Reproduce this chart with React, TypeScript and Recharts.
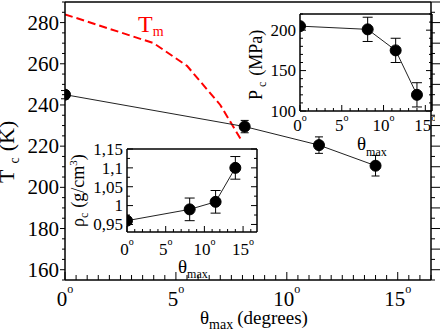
import React from 'react';
import { LineChart, Line, XAxis, YAxis, ErrorBar, Label } from 'recharts';

// ---- data ----
const thetaMax = [0, 8.1, 11.45, 14.0];
const tcValues = [245, 229.5, 220.5, 210.5];
const tcErrors = [2, 3, 4, 5];
const tmTheta = [0, 4, 5.5, 7, 8];
const tmValues = [284, 270, 259, 240, 222];
const pcValues = [205, 201, 175, 120];
const pcErrors = [0, 15, 15, 15];
const rhoValues = [0.96, 0.99, 1.01, 1.1];
const rhoErrors = [0, 0.03, 0.03, 0.03];

// ---- tick labels (major) ----
const mainXMajor = [0, 5, 10, 15];
const mainYMajor = [160, 180, 200, 220, 240, 260, 280];
const mainYRightMajor = [160, 170, 180, 190, 200, 210, 220, 230, 240, 250, 260, 270, 280, 290];
const pcXMajor = [0, 5, 10, 15];
const pcYMajor = [100, 150, 200];
const rhoXMajor = [0, 5, 10, 15];
const rhoYMajor = [0.95, 1, 1.05, 1.1, 1.15];

const steps = (a: number, b: number, s: number) => {
  const out: number[] = [];
  for (let i = 0; a + i * s <= b + 1e-9; i++) out.push(+(a + i * s).toFixed(4));
  return out;
};

const mainXTicks = steps(0, 16.5, 0.5);
const mainYTicks = steps(155, 290, 5);
const pcXTicks = steps(0, 15, 1);
const pcYTicks = steps(100, 220, 10);
const rhoXTicks = steps(0, 16, 1);
const rhoYTicks = steps(0.95, 1.15, 0.025);

const tcData = thetaMax.map((x, i) => ({ x, y: tcValues[i], err: tcErrors[i] }));
const tmData = tmTheta.map((x, i) => ({ x, y: tmValues[i] }));
const pcData = thetaMax.map((x, i) => ({ x, y: pcValues[i], err: pcErrors[i] }));
const rhoData = thetaMax.map((x, i) => ({ x, y: rhoValues[i], err: rhoErrors[i] }));

const FONT = '"Liberation Serif", "Times New Roman", serif';

type TickCfg = {
  side: 'bottom' | 'top' | 'left' | 'right';
  inward: boolean;
  majors: number[];
  majorLen: number;
  minorLen: number;
  fontSize?: number;
  offset?: number;
  format?: (v: number) => React.ReactNode;
};

const makeTick = (cfg: TickCfg) => (props: any) => {
  const { x, y, payload } = props;
  const v = payload.value;
  const major = cfg.majors.some((m) => Math.abs(m - v) < 1e-6);
  const len = major ? cfg.majorLen : cfg.minorLen;
  const out = cfg.inward ? -1 : 1;
  let x2 = x;
  let y2 = y;
  if (cfg.side === 'bottom') y2 = y + out * len;
  if (cfg.side === 'top') y2 = y - out * len;
  if (cfg.side === 'left') x2 = x - out * len;
  if (cfg.side === 'right') x2 = x + out * len;
  let label: React.ReactNode = null;
  if (major && cfg.format) {
    const fs = cfg.fontSize || 16;
    if (cfg.side === 'bottom') {
      label = (
        <text x={x} y={y + (cfg.offset || 0)} textAnchor="middle" fontFamily={FONT} fontSize={fs} fill="#000">
          {cfg.format(v)}
        </text>
      );
    } else if (cfg.side === 'left') {
      label = (
        <text x={x - (cfg.offset || 0)} y={y + fs * 0.34} textAnchor="end" fontFamily={FONT} fontSize={fs} fill="#000">
          {cfg.format(v)}
        </text>
      );
    }
  }
  return (
    <g>
      <line x1={x} y1={y} x2={x2} y2={y2} stroke="#000" strokeWidth={1} />
      {label}
    </g>
  );
};

const degree = (supSize: number, supDy: number) => (v: number) => [
  <tspan key="n">{v}</tspan>,
  <tspan key="s" dy={-supDy} fontSize={supSize}>o</tspan>,
];
const plain = (v: number) => String(v);
const comma = (v: number) => String(v).replace('.', ',');

const AXIS_LINE = { stroke: '#000', strokeWidth: 1.5 };

export default function App() {
  return (
    <div style={{ position: 'absolute', left: 0, top: 0, width: 443, height: 332, background: '#fff', overflow: 'hidden' }}>
      {/* main chart */}
      <div style={{ position: 'absolute', left: 0, top: 0 }}>
        <LineChart width={443} height={332} margin={{ top: 1, right: 11, bottom: 0, left: 0 }}>
          <XAxis
            xAxisId="b"
            dataKey="x"
            type="number"
            domain={[0, 16.5]}
            allowDataOverflow
            ticks={mainXTicks}
            interval={0}
            tickSize={0}
            tickMargin={0}
            height={52}
            axisLine={AXIS_LINE}
            tickLine={false}
            tick={makeTick({ side: 'bottom', inward: true, majors: mainXMajor, majorLen: 8, minorLen: 5, fontSize: 21, offset: 26, format: degree(12, 13) })}
          >
            <Label
              content={() => (
                <text x={200} y={324} fontFamily={FONT} fontSize={19} fill="#000">
                  <tspan>θ</tspan>
                  <tspan dy={5} fontSize={14}>max</tspan>
                  <tspan dy={-5} dx={4}>(degrees)</tspan>
                </text>
              )}
            />
          </XAxis>
          <XAxis
            xAxisId="t"
            orientation="top"
            type="number"
            domain={[0, 16.5]}
            allowDataOverflow
            ticks={mainXTicks}
            interval={0}
            tickSize={0}
            tickMargin={0}
            height={1}
            axisLine={AXIS_LINE}
            tickLine={false}
            tick={makeTick({ side: 'top', inward: true, majors: mainXMajor, majorLen: 8, minorLen: 5 })}
          >
            <Label
              content={() => (
                <text x={138} y={32} fontFamily={FONT} fontSize={24} fill="#ff0000">
                  <tspan>T</tspan>
                  <tspan dy={4} fontSize={14}>m</tspan>
                </text>
              )}
            />
          </XAxis>
          <YAxis
            yAxisId="l"
            type="number"
            domain={[155, 290]}
            allowDataOverflow
            ticks={mainYTicks}
            interval={0}
            tickSize={0}
            tickMargin={0}
            width={65}
            axisLine={AXIS_LINE}
            tickLine={false}
            tick={makeTick({ side: 'left', inward: false, majors: mainYMajor, majorLen: 5, minorLen: 3, fontSize: 21, offset: 6, format: plain })}
          >
            <Label
              content={() => (
                <text transform="rotate(-90 14 183)" x={14} y={183} fontFamily={FONT} fontSize={22} fill="#000">
                  <tspan>T</tspan>
                  <tspan dx={6} dy={5} fontSize={14}>c</tspan>
                  <tspan dx={6} dy={-5}>(K)</tspan>
                </text>
              )}
            />
          </YAxis>
          <YAxis
            yAxisId="r"
            orientation="right"
            type="number"
            domain={[155, 290]}
            allowDataOverflow
            ticks={mainYTicks}
            interval={0}
            tickSize={0}
            tickMargin={0}
            width={1}
            axisLine={AXIS_LINE}
            tickLine={false}
            tick={makeTick({ side: 'right', inward: false, majors: mainYRightMajor, majorLen: 9, minorLen: 4 })}
          />
          <Line
            xAxisId="b"
            yAxisId="l"
            data={tmData}
            dataKey="y"
            type="linear"
            stroke="#ff0000"
            strokeWidth={2}
            strokeDasharray="8 4"
            dot={false}
            isAnimationActive={false}
          />
          <Line
            xAxisId="b"
            yAxisId="l"
            data={tcData}
            dataKey="y"
            type="linear"
            stroke="#222"
            strokeWidth={1}
            dot={{ r: 5.5, fill: '#000', stroke: '#000', strokeWidth: 1 }}
            isAnimationActive={false}
          >
            <ErrorBar dataKey="err" direction="y" width={4} stroke="#000" strokeWidth={1} isAnimationActive={false} />
          </Line>
        </LineChart>
      </div>

      {/* Pc inset */}
      <div style={{ position: 'absolute', left: 230, top: 0 }}>
        <LineChart width={205} height={160} margin={{ top: 13, right: 2, bottom: 0, left: 0 }}>
          <XAxis
            xAxisId="b"
            dataKey="x"
            type="number"
            domain={[0, 15.8]}
            allowDataOverflow
            ticks={pcXTicks}
            interval={0}
            tickSize={0}
            tickMargin={0}
            height={49}
            axisLine={AXIS_LINE}
            tickLine={false}
            tick={makeTick({ side: 'bottom', inward: true, majors: pcXMajor, majorLen: 6, minorLen: 3, fontSize: 17, offset: 20, format: degree(10, 10) })}
          >
            <Label
              content={() => (
                <text x={127} y={150} fontFamily={FONT} fontSize={19} fill="#000">
                  <tspan>θ</tspan>
                  <tspan dy={6} fontSize={12}>max</tspan>
                </text>
              )}
            />
          </XAxis>
          <XAxis
            xAxisId="t"
            orientation="top"
            type="number"
            domain={[0, 15.8]}
            allowDataOverflow
            ticks={pcXTicks}
            interval={0}
            tickSize={0}
            tickMargin={0}
            height={1}
            axisLine={AXIS_LINE}
            tickLine={false}
            tick={makeTick({ side: 'top', inward: true, majors: pcXMajor, majorLen: 6, minorLen: 3 })}
          />
          <YAxis
            yAxisId="l"
            type="number"
            domain={[100, 220]}
            allowDataOverflow
            ticks={pcYTicks}
            interval={0}
            tickSize={0}
            tickMargin={0}
            width={70}
            axisLine={AXIS_LINE}
            tickLine={false}
            tick={makeTick({ side: 'left', inward: true, majors: pcYMajor, majorLen: 6, minorLen: 3, fontSize: 17, offset: 4, format: plain })}
          >
            <Label
              content={() => (
                <text transform="rotate(-90 32 100)" x={32} y={100} fontFamily={FONT} fontSize={18} fill="#000">
                  <tspan>P</tspan>
                  <tspan dx={3} dy={4} fontSize={12}>c</tspan>
                  <tspan dx={6} dy={-4}>(MPa)</tspan>
                </text>
              )}
            />
          </YAxis>
          <YAxis
            yAxisId="r"
            orientation="right"
            type="number"
            domain={[100, 220]}
            allowDataOverflow
            ticks={pcYTicks}
            interval={0}
            tickSize={0}
            tickMargin={0}
            width={1}
            axisLine={AXIS_LINE}
            tickLine={false}
            tick={makeTick({ side: 'right', inward: true, majors: pcYMajor, majorLen: 6, minorLen: 3 })}
          />
          <Line
            xAxisId="b"
            yAxisId="l"
            data={pcData}
            dataKey="y"
            type="linear"
            stroke="#222"
            strokeWidth={1}
            dot={{ r: 5.5, fill: '#000', stroke: '#000', strokeWidth: 1 }}
            isAnimationActive={false}
          >
            <ErrorBar dataKey="err" direction="y" width={5} stroke="#000" strokeWidth={1} isAnimationActive={false} />
          </Line>
        </LineChart>
      </div>

      {/* rho inset */}
      <div style={{ position: 'absolute', left: 60, top: 130 }}>
        <LineChart width={200} height={160} margin={{ top: 18, right: 2, bottom: 0, left: 0 }}>
          <XAxis
            xAxisId="b"
            dataKey="x"
            type="number"
            domain={[0, 16.8]}
            allowDataOverflow
            ticks={rhoXTicks}
            interval={0}
            tickSize={0}
            tickMargin={0}
            height={58}
            axisLine={AXIS_LINE}
            tickLine={false}
            tick={makeTick({ side: 'bottom', inward: true, majors: rhoXMajor, majorLen: 6, minorLen: 3, fontSize: 17, offset: 23, format: degree(10, 10) })}
          >
            <Label
              content={() => (
                <text x={118} y={143} fontFamily={FONT} fontSize={19} fill="#000">
                  <tspan>θ</tspan>
                  <tspan dy={5} fontSize={12}>max</tspan>
                </text>
              )}
            />
          </XAxis>
          <XAxis
            xAxisId="t"
            orientation="top"
            type="number"
            domain={[0, 16.8]}
            allowDataOverflow
            ticks={rhoXTicks}
            interval={0}
            tickSize={0}
            tickMargin={0}
            height={1}
            axisLine={AXIS_LINE}
            tickLine={false}
            tick={makeTick({ side: 'top', inward: true, majors: rhoXMajor, majorLen: 6, minorLen: 3 })}
          />
          <YAxis
            yAxisId="l"
            type="number"
            domain={[0.93, 1.15]}
            allowDataOverflow
            ticks={rhoYTicks}
            interval={0}
            tickSize={0}
            tickMargin={0}
            width={67}
            axisLine={AXIS_LINE}
            tickLine={false}
            tick={makeTick({ side: 'left', inward: true, majors: rhoYMajor, majorLen: 6, minorLen: 3, fontSize: 17, offset: 4, format: comma })}
          >
            <Label
              content={() => (
                <text transform="rotate(-90 24 97)" x={24} y={97} fontFamily={FONT} fontSize={18} fill="#000">
                  <tspan>ρ</tspan>
                  <tspan dy={4} fontSize={12}>c</tspan>
                  <tspan dx={5} dy={-4}>(g/cm</tspan>
                  <tspan dy={-7} fontSize={11}>3</tspan>
                  <tspan dy={7}>)</tspan>
                </text>
              )}
            />
          </YAxis>
          <YAxis
            yAxisId="r"
            orientation="right"
            type="number"
            domain={[0.93, 1.15]}
            allowDataOverflow
            ticks={rhoYTicks}
            interval={0}
            tickSize={0}
            tickMargin={0}
            width={1}
            axisLine={AXIS_LINE}
            tickLine={false}
            tick={makeTick({ side: 'right', inward: true, majors: rhoYMajor, majorLen: 6, minorLen: 3 })}
          />
          <Line
            xAxisId="b"
            yAxisId="l"
            data={rhoData}
            dataKey="y"
            type="linear"
            stroke="#222"
            strokeWidth={1}
            dot={{ r: 5.5, fill: '#000', stroke: '#000', strokeWidth: 1 }}
            isAnimationActive={false}
          >
            <ErrorBar dataKey="err" direction="y" width={5} stroke="#000" strokeWidth={1} isAnimationActive={false} />
          </Line>
        </LineChart>
      </div>
    </div>
  );
}
